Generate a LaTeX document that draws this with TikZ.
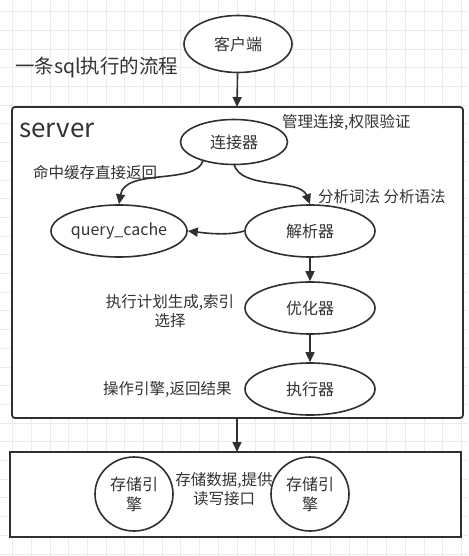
\documentclass[tikz,border=0pt]{standalone}
\usepackage{fontspec}
\setmainfont{Noto Sans CJK SC}
\usetikzlibrary{arrows.meta,shapes.geometric}
\definecolor{txt}{HTML}{333333}
\definecolor{ln}{HTML}{303030}
\definecolor{gridc}{HTML}{ECECEC}
\tikzset{
  lbl/.style={font=\fontsize{15.5}{19}\selectfont, text=txt, inner sep=0pt, align=center},
  ell/.style={draw=ln, line width=1.6pt, ellipse, fill=white, font=\fontsize{16}{20}\selectfont, text=txt, inner sep=0pt, align=center},
  arr/.style={draw=ln, line width=1.6pt, -{Triangle[length=10pt,width=9pt]}},
  box/.style={draw=ln, line width=1.8pt, fill=white},
}
\begin{document}
\begin{tikzpicture}[x=1pt,y=-1pt]
\useasboundingbox (0,0) rectangle (468,556);
\fill[white] (0,0) rectangle (468,556);
% grid
\foreach \i in {0,...,25} {
  \draw[gridc, line width=0.6pt] ({12.4+18.7*\i},0) -- ({12.4+18.7*\i},556);
}
\foreach \j in {0,...,30} {
  \draw[gridc, line width=0.6pt] (0,{11.5+18.7*\j}) -- (468,{11.5+18.7*\j});
}
% boxes
\draw[box, rounded corners=3pt] (12,107) rectangle (463,418);
\node[box, minimum width=451pt, minimum height=85pt, inner sep=0pt] (store) at (235.5,494.5) {};
\coordinate (srvtop) at (237,107);
\coordinate (srvbot) at (237,418);
\coordinate (sttop) at (237,452);

% title texts
\node[lbl, font=\fontsize{19.5}{22}\selectfont, anchor=west] (title) at (15,68) {一条sql执行的流程};
\node[lbl, font=\fontsize{26}{30}\selectfont, anchor=west] (srv) at (19,130) {server};

% nodes
\node[ell, minimum width=108pt, minimum height=57pt] (client) at (238,44) {客户端};
\node[ell, minimum width=107pt, minimum height=45pt] (conn) at (234,142) {连接器};
\node[ell, minimum width=130pt, minimum height=52pt] (qc) at (119,231) {query\_cache};
\node[ell, minimum width=130pt, minimum height=52pt] (parse) at (310,231) {解析器};
\node[ell, minimum width=130pt, minimum height=52pt] (opt) at (310,308) {优化器};
\node[ell, minimum width=130pt, minimum height=52pt] (exec) at (310,389) {执行器};
\node[ell, minimum width=78pt, minimum height=74pt] (se1) at (134,494) {存储引\\擎};
\node[ell, minimum width=78pt, minimum height=74pt] (se2) at (310,494) {存储引\\擎};

% labels
\node[lbl, anchor=west] (l1) at (282,122) {管理连接,权限验证};
\node[lbl, anchor=west] (l2) at (33,173) {命中缓存直接返回};
\node[lbl, anchor=west] (l3) at (318,197) {分析词法 分析语法};
\node[lbl] (l4) at (170,311) {执行计划生成,索引\\选择};
\node[lbl, anchor=west] (l5) at (103,389) {操作引擎,返回结果};
\node[lbl] (l6) at (224,489) {存储数据,提供\\读写接口};

% connectors
\draw[arr] (203,161) .. controls (195,185) and (125,168) .. (qc.north);
\draw[arr] (234,164) .. controls (240,190) and (300,178) .. (parse.north);
\draw[arr] (parse.west) .. controls (228,236) and (205,233) .. (qc.east);
\draw[arr] (client) -- (srvtop);
\draw[arr] (parse) -- (opt);
\draw[arr] (opt) -- (exec);
\draw[arr] (srvbot) -- (sttop);
\end{tikzpicture}
\end{document}
